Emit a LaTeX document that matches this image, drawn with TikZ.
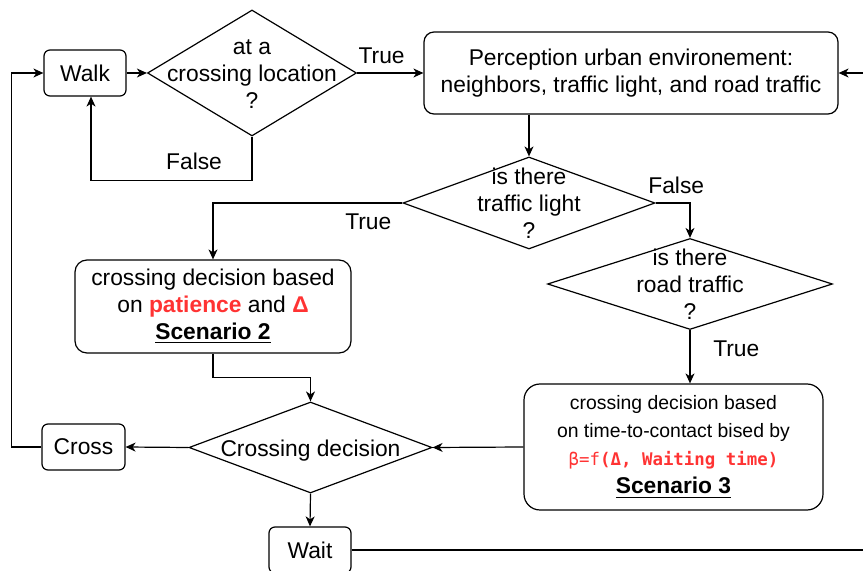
\documentclass[tikz,border=0pt]{standalone}
\usepackage{fontspec}
\setmainfont{Liberation Sans}
\newfontfamily\codefont{DejaVu Sans Mono}
\usetikzlibrary{shapes.geometric, arrows.meta}
\definecolor{myred}{RGB}{255, 51, 51}
% text of a test node: it does not change the size of the diamond
\newcommand{\testlines}[1]{\makebox[0pt]{\smash{\raisebox{-0.38em}{\begin{tabular}{@{}c@{}}#1\end{tabular}}}}}

\begin{document}
\begin{tikzpicture}[
   x=0.5pt, y=-0.5pt,
   every node/.style  = {font=\fontsize{11.4}{13.5}\selectfont},
   stepBox/.style     = {rectangle, rounded corners=3pt, draw, line width=0.6pt, align=center, minimum width=41pt, minimum height=23pt},
   bigBox/.style      = {rectangle, rounded corners=6pt, draw, line width=0.6pt, align=center},
   testNode/.style    = {diamond, draw, line width=0.6pt, inner sep=0pt},
   myarrow/.style     = {-{Stealth[length=5pt, width=4.5pt, inset=1.5pt]}, line width=0.6pt}
]
    \useasboundingbox (0,0) rectangle (863,571);

    \node[stepBox] (walk) at (85,73) {Walk};
    \node[testNode, minimum width=104.5pt, minimum height=63pt] (atcrossing) at (252,73) {\testlines{at a\\crossing location\\?}};
    \node[bigBox, rounded corners=5pt, minimum width=207pt, minimum height=41pt] (perception) at (631,73) {Perception urban environement:\\neighbors, traffic light, and road traffic};

    \draw[myarrow] (walk.east) -- (atcrossing.west);
    \draw[myarrow] (atcrossing.east) -- node[pos=0.37, above=1pt] (labtrue1) {True} (perception.west);
    \draw[myarrow] (atcrossing.south) -- ++(0,44) -| node[pos=0.18, above=2pt] (labfalse1) {False} ([xshift=3pt]walk.south);

    \node[testNode, minimum width=126pt, minimum height=46pt] (trafficlight) at (529,203) {\testlines{is there\\traffic light\\?}};
    \node[testNode, minimum width=142.5pt, minimum height=45.5pt] (roadtraffic) at (690,284) {\testlines{is there\\road traffic\\?}};
    \node[bigBox, minimum width=138pt, minimum height=46.5pt] (scenariotwo) at (213,306.5) {crossing decision based\\on \textbf{\color{myred}patience} and \textbf{\color{myred}Δ}\\\textbf{\underline{Scenario 2}}};
    \node[bigBox, rounded corners=8pt, minimum width=149.5pt, minimum height=63pt, font=\fontsize{9.7}{14}\selectfont] (scenariothree) at (673.5,447) {crossing decision based\\on time-to-contact bised by\\{\codefont\fontsize{8.7}{14}\selectfont\color{myred}β=f\textbf{(Δ, Waiting time)}}\\{\fontsize{11.4}{13}\selectfont\bfseries\underline{Scenario 3}}};

    \draw[myarrow] (trafficlight.north |- perception.south) -- (trafficlight.north);
    \draw[myarrow] (trafficlight.west) -| node[pos=0.09, below=2pt] (labtrue2) {True} (scenariotwo.north);
    \draw[myarrow] (trafficlight.east) -| node[pos=0.3, above=1pt] (labfalse2) {False} (roadtraffic.north);
    \draw[myarrow] (roadtraffic.south) -- node[pos=0.35, right=8pt] (labtrue3) {True} (roadtraffic.south |- scenariothree.north);

    \node[testNode, minimum width=121.5pt, minimum height=45.5pt] (decision) at (310.5,447.5) {\testlines{Crossing decision}};
    \node[stepBox, minimum width=41.5pt] (cross) at (83.5,447) {Cross};
    \node[stepBox] (wait) at (310,550) {Wait};

    \draw[myarrow] (scenariotwo.south) -- ++(0,24) -| (decision.north);
    \draw[myarrow] (scenariothree.west) -- (decision.east);
    \draw[myarrow] (decision.west) -- (cross.east);
    \draw[myarrow] (decision.south) -- (wait.north);
    \draw[myarrow] (cross.west) -- ++(-30,0) |- (walk.west);
    \draw[myarrow] (wait.east) -- ++(560,0) |- (perception.east);
\end{tikzpicture}
\end{document}
